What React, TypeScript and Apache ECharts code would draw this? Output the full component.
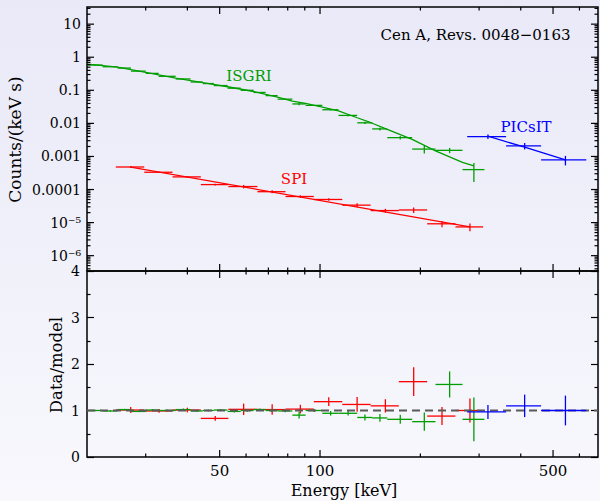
import React, { useEffect, useRef } from 'react';
import * as echarts from 'echarts';

const FONT = '"DejaVu Serif", serif';
const GREEN = '#009e00';
const RED = '#ff0000';
const BLUE = '#0000ff';

// axis ranges
const XMIN = 20;
const XMAX = 682;
const YMIN = 3.44e-7;
const YMAX = 33;

// tick values
const X_MAJOR = [50, 100, 500];
const X_MINOR = [30, 40, 60, 70, 80, 90, 200, 300, 400, 600];
const Y_MAJOR = [1e-6, 1e-5, 1e-4, 1e-3, 1e-2, 0.1, 1, 10];
const Y_MAJOR_LABELS = ['10⁻⁶', '10⁻⁵', '0.0001', '0.001', '0.01', '0.1', '1', '10'];
const Y_MINOR_MULT = [2, 3, 4, 5, 6, 7, 8, 9];

// ISGRI
const ISGRI_EDGES = [20.1, 22.3, 24.7, 27.1, 30.0, 32.8, 36.9, 40.9, 44.5, 48.0, 52.8, 57.8, 63.2, 68.7, 74.6, 82.6, 90.5, 101.6, 113.6, 129.3, 143.4, 159.1, 189.0, 222.0, 267.5, 311.3];
const ISGRI_VALUES = [0.58, 0.515, 0.47, 0.38, 0.325, 0.265, 0.22, 0.178, 0.16, 0.139, 0.116, 0.1, 0.086, 0.069, 0.054, 0.0387, 0.035, 0.0258, 0.0174, 0.0104, 0.0068, 0.0037, 0.00167, 0.00153, 0.0004];
const ISGRI_RATIO = [1.0, 0.99, 1.02, 0.98, 1.01, 1.0, 1.02, 0.99, 1.0, 1.01, 0.98, 1.0, 1.02, 1.0, 0.99, 0.9, 1.0, 0.94, 0.94, 0.85, 0.84, 0.81, 0.76, 1.56, 0.81];
const ISGRI_ERR = [0.015, 0.015, 0.015, 0.015, 0.02, 0.02, 0.02, 0.02, 0.02, 0.02, 0.025, 0.025, 0.025, 0.03, 0.03, 0.08, 0.03, 0.053, 0.05, 0.076, 0.1, 0.12, 0.26, 0.18, 0.58];
const ISGRI_MODEL_E = [20.1, 24.7, 30, 36.9, 44.5, 52.8, 63.2, 74.6, 82.6, 90.5, 101.6, 113.6, 129.3, 143.4, 159.1, 189, 222, 267.5, 289.4];
const ISGRI_MODEL_V = [0.615, 0.5, 0.35, 0.235, 0.17, 0.128, 0.092, 0.062, 0.047, 0.04, 0.031, 0.024, 0.0148, 0.0101, 0.0066, 0.00329, 0.00148, 0.000664, 0.00052];

// SPI
const SPI_EDGES = [24.4, 29.7, 36.1, 43.9, 53.1, 64.9, 78.8, 95.8, 116.6, 141.8, 172.3, 209.6, 254.8, 308.5];
const SPI_VALUES = [4.8e-4, 3.33e-4, 2.41e-4, 1.41e-4, 1.23e-4, 8.6e-5, 6.15e-5, 5.0e-5, 3.37e-5, 2.31e-5, 2.41e-5, 9.2e-6, 7.4e-6];
const SPI_RATIO = [1.01, 0.99, 1.01, 0.83, 1.025, 1.02, 1.03, 1.19, 1.13, 1.1, 1.62, 0.88, 1.0];
const SPI_ERR = [0.065, 0.04, 0.05, 0.06, 0.12, 0.11, 0.09, 0.08, 0.14, 0.13, 0.19, 0.22, 0.26];
const SPI_MODEL_E = [27.05, 281.65];
const SPI_MODEL_V = [4.75e-4, 7.41e-6];

// PICsIT
const PICSIT_EDGES = [276.3, 361.5, 460.3, 629];
const PICSIT_VALUES = [3.99e-3, 2.09e-3, 7.88e-4];
const PICSIT_RATIO = [0.97, 1.1, 1.0];
const PICSIT_ERR = [0.155, 0.22, 0.32];
const PICSIT_MODEL_E = [318.9, 410.9, 544.65];
const PICSIT_MODEL_V = [4.1e-3, 1.9e-3, 7.9e-4];

function crossSeries(edges: number[], values: number[], errs: number[], color: string, idx: number) {
  const data = values.map((v, i) => [edges[i], edges[i + 1], v, errs[i]]);
  return {
    type: 'custom',
    xAxisIndex: idx,
    yAxisIndex: idx,
    dimensions: ['lo', 'hi', 'v', 'e'],
    encode: { x: [0, 1], y: 2 },
    data,
    z: 5,
    silent: true,
    renderItem: (params: any, api: any) => {
      const lo = api.value(0), hi = api.value(1), v = api.value(2), e = api.value(3);
      const c = (lo + hi) / 2;
      const a = api.coord([lo, v]);
      const b = api.coord([hi, v]);
      const t = api.coord([c, v * (1 + e)]);
      const d = api.coord([c, v * (1 - e)]);
      const style = { stroke: color, lineWidth: 1.3 };
      return {
        type: 'group',
        children: [
          { type: 'line', shape: { x1: a[0], y1: a[1], x2: b[0], y2: b[1] }, style },
          { type: 'line', shape: { x1: t[0], y1: t[1], x2: d[0], y2: d[1] }, style },
        ],
      };
    },
  };
}

function modelSeries(es: number[], vs: number[], color: string) {
  return {
    type: 'line',
    xAxisIndex: 0,
    yAxisIndex: 0,
    data: es.map((e, i) => [e, vs[i]]),
    symbol: 'none',
    silent: true,
    z: 4,
    lineStyle: { color, width: 1.3 },
  };
}

function xTickSeries(idx: number, labels: boolean) {
  const ticks = [...X_MAJOR.map((t) => [t, 1, 1]), ...X_MINOR.map((t) => [t, 1, 0])];
  return {
    type: 'custom',
    xAxisIndex: idx,
    yAxisIndex: idx,
    encode: { x: 0, y: 1 },
    data: ticks,
    silent: true,
    z: 10,
    renderItem: (params: any, api: any) => {
      const cs = params.coordSys;
      const p = api.coord([api.value(0), api.value(1)]);
      const major = api.value(2) === 1;
      const len = major ? 7 : 3.5;
      const style = { stroke: '#000', lineWidth: 1.2 };
      const children: any[] = [
        { type: 'line', shape: { x1: p[0], y1: cs.y, x2: p[0], y2: cs.y + len }, style },
        { type: 'line', shape: { x1: p[0], y1: cs.y + cs.height, x2: p[0], y2: cs.y + cs.height - len }, style },
      ];
      if (labels && major) {
        children.push({
          type: 'text',
          x: p[0],
          y: cs.y + cs.height + 14,
          style: { text: String(api.value(0)), fontFamily: FONT, fontSize: 15, fill: '#000', align: 'center', verticalAlign: 'middle' },
        });
      }
      return { type: 'group', children };
    },
  };
}

function yTickSeries() {
  const ticks: any[] = [];
  Y_MAJOR.forEach((v, i) => ticks.push([100, v, 1, i]));
  [1e-7, 1e-6, 1e-5, 1e-4, 1e-3, 1e-2, 0.1, 1, 10].forEach((d) =>
    Y_MINOR_MULT.forEach((m) => {
      const v = d * m;
      if (v > YMIN && v < YMAX) ticks.push([100, v, 0, -1]);
    })
  );
  return {
    type: 'custom',
    xAxisIndex: 0,
    yAxisIndex: 0,
    encode: { x: 0, y: 1 },
    data: ticks,
    silent: true,
    z: 10,
    renderItem: (params: any, api: any) => {
      const cs = params.coordSys;
      const p = api.coord([api.value(0), api.value(1)]);
      const major = api.value(2) === 1;
      const len = major ? 7 : 3.5;
      const style = { stroke: '#000', lineWidth: 1.2 };
      const children: any[] = [
        { type: 'line', shape: { x1: cs.x, y1: p[1], x2: cs.x + len, y2: p[1] }, style },
        { type: 'line', shape: { x1: cs.x + cs.width, y1: p[1], x2: cs.x + cs.width - len, y2: p[1] }, style },
      ];
      if (major) {
        children.push({
          type: 'text',
          x: cs.x - 6,
          y: p[1],
          style: { text: Y_MAJOR_LABELS[api.value(3)], fontFamily: FONT, fontSize: 14, fill: '#000', align: 'right', verticalAlign: 'middle' },
        });
      }
      return { type: 'group', children };
    },
  };
}

const ratioY = (position: string, showLabel: boolean) => ({
  type: 'value',
  gridIndex: 1,
  position,
  min: 0,
  max: 4,
  interval: 1,
  axisLine: { show: false },
  axisTick: { show: true, inside: true, length: 7, lineStyle: { color: '#000', width: 1.2 } },
  minorTick: { show: true, splitNumber: 2, length: 3.5, lineStyle: { color: '#000', width: 1.2 } },
  splitLine: { show: false },
  minorSplitLine: { show: false },
  axisLabel: { show: showLabel, color: '#000', fontFamily: FONT, fontSize: 14, margin: 7 },
});

function text(t: string, x: number, y: number, color: string, rotation = 0, size = 15) {
  return {
    type: 'text',
    x,
    y,
    rotation,
    silent: true,
    style: { text: t, fill: color, fontFamily: FONT, fontSize: size, align: 'center', verticalAlign: 'middle' },
  };
}

export default function App() {
  const ref = useRef<HTMLDivElement>(null);
  useEffect(() => {
    if (!ref.current) return;
    const chart = echarts.init(ref.current, null, { renderer: 'svg' });
    const frame = { show: true, borderColor: '#000', borderWidth: 1.5, backgroundColor: 'transparent' };
    chart.setOption({
      animation: false,
      backgroundColor: 'transparent',
      grid: [
        { left: 87, right: 2, top: 7, height: 264, ...frame },
        { left: 87, right: 2, top: 271, height: 186, ...frame },
      ],
      xAxis: [
        { type: 'log', gridIndex: 0, min: XMIN, max: XMAX, show: false },
        { type: 'log', gridIndex: 1, min: XMIN, max: XMAX, show: false },
      ],
      yAxis: [
        { type: 'log', gridIndex: 0, min: YMIN, max: YMAX, show: false },
        ratioY('left', true),
        ratioY('right', false),
      ],
      graphic: [
        text('Cen A, Revs. 0048−0163', 475.5, 35, '#000'),
        text('ISGRI', 249, 76, GREEN),
        text('SPI', 294, 179, RED),
        text('PICsIT', 526, 127, BLUE),
        text('Counts/(keV s)', 15, 139.5, '#000', Math.PI / 2, 17),
        text('Data/model', 56.5, 365, '#000', Math.PI / 2, 16.5),
        text('Energy [keV]', 344, 490, '#000', 0, 16),
      ],
      series: [
        modelSeries(ISGRI_MODEL_E, ISGRI_MODEL_V, GREEN),
        modelSeries(SPI_MODEL_E, SPI_MODEL_V, RED),
        modelSeries(PICSIT_MODEL_E, PICSIT_MODEL_V, BLUE),
        crossSeries(ISGRI_EDGES, ISGRI_VALUES, ISGRI_ERR, GREEN, 0),
        crossSeries(SPI_EDGES, SPI_VALUES, SPI_ERR, RED, 0),
        crossSeries(PICSIT_EDGES, PICSIT_VALUES, PICSIT_ERR, BLUE, 0),
        crossSeries(SPI_EDGES, SPI_RATIO, SPI_ERR, RED, 1),
        crossSeries(ISGRI_EDGES, ISGRI_RATIO, ISGRI_ERR, GREEN, 1),
        {
          type: 'line',
          xAxisIndex: 1,
          yAxisIndex: 1,
          data: [[XMIN, 1], [XMAX, 1]],
          symbol: 'none',
          silent: true,
          z: 6,
          lineStyle: { color: '#5a5a5a', width: 2, type: [8, 5] },
        },
        { ...crossSeries(PICSIT_EDGES, PICSIT_RATIO, PICSIT_ERR, BLUE, 1), z: 7 },
        xTickSeries(0, false),
        xTickSeries(1, true),
        yTickSeries(),
      ],
    });
    return () => chart.dispose();
  }, []);
  return (
    <div
      ref={ref}
      style={{
        position: 'fixed',
        left: 0,
        top: 0,
        width: 600,
        height: 501,
        background: 'linear-gradient(#e9e9f8, #f8f8fd)',
      }}
    />
  );
}
